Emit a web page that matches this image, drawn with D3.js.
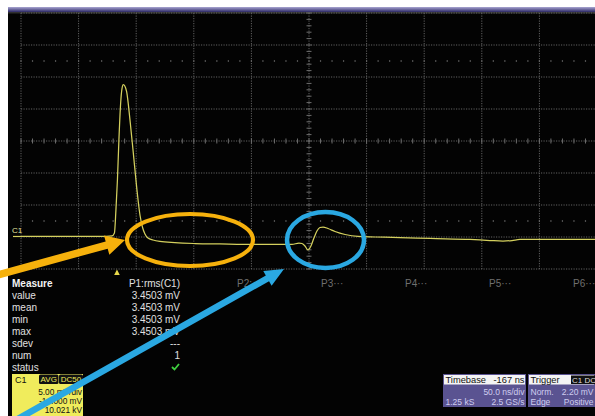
<!DOCTYPE html>
<html>
<head>
<meta charset="utf-8">
<script src="https://cdn.jsdelivr.net/npm/d3@7"></script>
<style>
  html, body { margin: 0; padding: 0; background: #fff; }
  svg { display: block; }
  text { font-family: "Liberation Sans", Arial, sans-serif; }
</style>
</head>
<body>
<svg id="scope" width="595" height="416"></svg>
<script>
// Acquired waveform of channel C1 (time in ns relative to trigger, amplitude in mV)
const traceTime = [-83.3, -49.5, -14.8, -4.3, -2.2, -0.9, 0.4, 1.7, 3.2, 4.3, 5.5, 6.8, 8.4, 11.3, 14.2, 17.1, 20.0, 22.1, 24.3, 26.9, 31.3, 37.3, 50.3, 67.7, 89.4, 124.1, 151.9, 158.0, 160.6, 163.2, 165.8, 168.4, 171.0, 173.6, 176.2, 178.9, 183.2, 189.3, 198.0, 209.3, 224.0, 245.7, 271.7, 306.4, 323.8, 335.1, 342.9, 349.8, 375.9, 416.7];
const traceMv   = [-0.92, -0.92, -0.92, -0.84, -0.38, 3.2, 7.9, 14.2, 19.9, 22.1, 22.8, 22.6, 21.7, 17.3, 12.1, 6.8, 2.4, 0.56, -0.53, -1.16, -1.47, -1.70, -1.89, -2.02, -2.09, -2.17, -2.17, -1.94, -2.02, -2.41, -3.03, -2.41, -1.16, -0.06, 0.48, 0.56, 0.33, -0.14, -0.61, -0.92, -1.00, -1.08, -1.23, -1.39, -1.55, -1.63, -1.55, -1.39, -1.39, -1.36];

// Acquisition settings
const nsPerDiv = 50;
const mvPerDiv = 5;
const timeStart = -83.3;   // left edge of the graticule
const mvBottom = -6;       // bottom edge of the graticule
const hDivs = 10, vDivs = 8;

// Measurement panel
const measureLabels = ["value", "mean", "min", "max", "sdev", "num", "status"];
const measureValues = ["3.4503 mV", "3.4503 mV", "3.4503 mV", "3.4503 mV", "---", "1", ""];
const measureTitle = "P1:rms(C1)";
const paramSlots = ["P2:", "P3···", "P4···", "P5···", "P6···"];

// Channel descriptor
const chanLines = ["5.00 mV/div", "-14.000 mV", "10.021 kV"];
const chanBadges = ["AVG", "DC50"];

// Timebase / trigger descriptors
const timebaseHead = ["Timebase", "-167 ns"];
const timebaseRows = [["", "50.0 ns/div"], ["1.25 kS", "2.5 GS/s"]];
const triggerHead = ["Trigger", "C1 DC"];
const triggerRows = [["Norm.", "2.20 mV"], ["Edge", "Positive"]];

const svg = d3.select("#scope");

const x = d3.scaleLinear().domain([timeStart, timeStart + hDivs * nsPerDiv]).range([21, 597]);
const y = d3.scaleLinear().domain([mvBottom, mvBottom + vDivs * mvPerDiv]).range([269, 13]);

// Screen frame
const defs = svg.append("defs");
const grad = defs.append("linearGradient").attr("id", "titlebar").attr("x1", 0).attr("y1", 0).attr("x2", 0).attr("y2", 1);
grad.append("stop").attr("offset", "0%").attr("stop-color", "#a9a6d2");
grad.append("stop").attr("offset", "100%").attr("stop-color", "#2b2765");

svg.append("rect").attr("x", 0).attr("y", 0).attr("width", 595).attr("height", 416).attr("fill", "#fff");
svg.append("rect").attr("x", 8).attr("y", 12).attr("width", 587).attr("height", 404).attr("fill", "#030303");
svg.append("rect").attr("x", 8).attr("y", 7).attr("width", 587).attr("height", 5).attr("fill", "url(#titlebar)");
svg.append("rect").attr("x", 8).attr("y", 12).attr("width", 587).attr("height", 1.5).attr("fill", "#303030");

// Graticule
const grid = svg.append("g").attr("stroke", "#626262").attr("stroke-width", 1).attr("stroke-dasharray", "1.2,1.3");
const vTimes = d3.range(hDivs + 1).map(i => timeStart + i * nsPerDiv);
const hMv = d3.range(vDivs + 1).map(i => mvBottom + i * mvPerDiv);
grid.selectAll("line.v").data(vTimes).join("line")
  .attr("x1", d => x(d)).attr("x2", d => x(d))
  .attr("y1", y.range()[1]).attr("y2", y.range()[0]);
grid.selectAll("line.h").data(hMv).join("line")
  .attr("x1", x.range()[0]).attr("x2", x.range()[1])
  .attr("y1", d => y(d)).attr("y2", d => y(d));

// Minor ticks on the centre axes and the quarter rows
const tCenter = timeStart + (hDivs / 2) * nsPerDiv;
const vCenter = mvBottom + (vDivs / 2) * mvPerDiv;
const minorT = d3.range(hDivs * 5 + 1).map(i => timeStart + i * nsPerDiv / 5);
const minorV = d3.range(vDivs * 5 + 1).map(i => mvBottom + i * mvPerDiv / 5);
const ticks = svg.append("g").attr("stroke", "#6e6e6e").attr("stroke-width", 1);
ticks.selectAll("line.tx").data(minorT).join("line")
  .attr("x1", d => x(d)).attr("x2", d => x(d))
  .attr("y1", y(vCenter) - 2.5).attr("y2", y(vCenter) + 2.5);
ticks.selectAll("line.ty").data(minorV).join("line")
  .attr("x1", x(tCenter) - 2.5).attr("x2", x(tCenter) + 2.5)
  .attr("y1", d => y(d)).attr("y2", d => y(d));
const quarterRows = [vCenter + 2.5 * mvPerDiv, vCenter - 2.5 * mvPerDiv];
quarterRows.forEach(r => {
  svg.append("g").attr("fill", "#707070").selectAll("rect").data(minorT).join("rect")
    .attr("x", d => x(d) - 0.6).attr("y", y(r) - 0.7).attr("width", 1.2).attr("height", 1.4);
});

// Ground marker
svg.append("text").attr("x", 12).attr("y", 233).attr("font-size", 8).attr("fill", "#e6e6a0").text("C1");
svg.append("line").attr("x1", 13).attr("x2", 21).attr("y1", y(traceMv[0])).attr("y2", y(traceMv[0]))
  .attr("stroke", "#d4d05e").attr("stroke-width", 1.2);

// Trigger position marker
const tx0 = x(0);
svg.append("path").attr("d", `M${tx0 - 2.8},275 L${tx0 + 2.8},275 L${tx0},269.5 Z`).attr("fill", "#e8d84a");

// Waveform
const line = d3.line().x((d, i) => x(traceTime[i])).y(d => y(d)).curve(d3.curveMonotoneX);
svg.append("path").datum(traceMv).attr("d", line)
  .attr("fill", "none").attr("stroke", "#d4d05e").attr("stroke-width", 1.25).attr("stroke-linejoin", "round");

// Measurement table
const mt = svg.append("g").attr("font-size", 10);
mt.append("text").attr("x", 12).attr("y", 286.5).attr("font-weight", "bold").attr("fill", "#f4f4f4").text("Measure");
mt.append("text").attr("x", 180).attr("y", 286.5).attr("text-anchor", "end").attr("fill", "#e0e0e0").text(measureTitle);
const rowY = i => 298.5 + i * 12;
mt.selectAll("text.lbl").data(measureLabels).join("text")
  .attr("x", 12).attr("y", (d, i) => rowY(i)).attr("fill", "#e0e0e0").text(d => d);
mt.selectAll("text.val").data(measureValues).join("text")
  .attr("x", 180).attr("y", (d, i) => rowY(i)).attr("text-anchor", "end").attr("fill", "#e0e0e0").text(d => d);
const ck = rowY(6) - 3.5;
svg.append("path").attr("d", `M172,${ck} L174.5,${ck + 2.5} L179,${ck - 3}`)
  .attr("fill", "none").attr("stroke", "#3fcf3f").attr("stroke-width", 1.8);

// Empty parameter slots
svg.append("g").attr("font-size", 10).attr("fill", "#6f6f6f")
  .selectAll("text").data(paramSlots).join("text")
  .attr("x", (d, i) => 237 + i * 84).attr("y", 286.5).text(d => d);

// Channel descriptor box
const cb = svg.append("g");
cb.append("rect").attr("x", 12).attr("y", 374).attr("width", 71).attr("height", 42).attr("fill", "#f0ec5c");
cb.append("text").attr("x", 15).attr("y", 382.5).attr("font-size", 9).attr("fill", "#111").text("C1");
const badgeX = [39, 59], badgeW = [19.5, 24];
chanBadges.forEach((b, i) => {
  cb.append("rect").attr("x", badgeX[i]).attr("y", 374.5).attr("width", badgeW[i]).attr("height", 9.5).attr("rx", 1.5).attr("fill", "#111");
  cb.append("text").attr("x", badgeX[i] + badgeW[i] / 2).attr("y", 382.3).attr("text-anchor", "middle")
    .attr("font-size", 8).attr("fill", "#f0ec5c").text(b);
});
cb.append("g").selectAll("text").data(chanLines).join("text")
  .attr("x", 82).attr("y", (d, i) => 395 + i * 9)
  .attr("text-anchor", "end").attr("font-size", 8.3).attr("fill", "#111").text(d => d);

// Timebase and trigger descriptor boxes
function descriptor(x0, w, head, rows, badge) {
  const g = svg.append("g").attr("font-size", 8.5);
  g.append("rect").attr("x", x0).attr("y", 374).attr("width", w).attr("height", 33).attr("fill", "#5a5391");
  g.append("rect").attr("x", x0 + 1).attr("y", 375).attr("width", w - 2).attr("height", 9.5).attr("fill", "#f4f4f4");
  g.append("text").attr("x", x0 + 2.5).attr("y", 383).attr("fill", "#111").attr("font-size", 9.3).text(head[0]);
  if (badge) {
    g.append("rect").attr("x", x0 + 43).attr("y", 375.5).attr("width", 24).attr("height", 8.5).attr("fill", "#111");
    g.append("text").attr("x", x0 + 44).attr("y", 382.7).attr("fill", "#ddd").attr("font-size", 8).text(head[1]);
  } else {
    g.append("text").attr("x", x0 + w - 1.5).attr("y", 383).attr("text-anchor", "end").attr("fill", "#111").attr("font-size", 9.3).text(head[1]);
  }
  rows.forEach((r, i) => {
    const yy = 395 + i * 9.5;
    g.append("text").attr("x", x0 + 2.5).attr("y", yy).attr("fill", "#cfcdf0").text(r[0]);
    g.append("text").attr("x", x0 + w - 1.5).attr("y", yy).attr("text-anchor", "end").attr("fill", "#cfcdf0").text(r[1]);
  });
}
descriptor(443, 83, timebaseHead, timebaseRows, false);
descriptor(528, 67, triggerHead, triggerRows, true);

// Annotation callouts
function arrow(x1, y1, x2, y2, shaftW, headL, headW, color) {
  const a = Math.atan2(y2 - y1, x2 - x1);
  const ux = Math.cos(a), uy = Math.sin(a), px = -uy, py = ux;
  const bx = x2 - ux * headL, by = y2 - uy * headL;
  const pts = [
    [x1 + px * shaftW / 2, y1 + py * shaftW / 2],
    [bx + px * shaftW / 2, by + py * shaftW / 2],
    [bx + px * headW / 2, by + py * headW / 2],
    [x2, y2],
    [bx - px * headW / 2, by - py * headW / 2],
    [bx - px * shaftW / 2, by - py * shaftW / 2],
    [x1 - px * shaftW / 2, y1 - py * shaftW / 2]
  ];
  svg.append("path").attr("d", "M" + pts.map(p => p.join(",")).join("L") + "Z").attr("fill", color);
}
svg.append("ellipse").attr("cx", 190).attr("cy", 240).attr("rx", 63).attr("ry", 26)
  .attr("fill", "none").attr("stroke", "#f6b10c").attr("stroke-width", 4.2);
svg.append("ellipse").attr("cx", 325.5).attr("cy", 240).attr("rx", 38.5).attr("ry", 28)
  .attr("fill", "none").attr("stroke", "#2aa8e2").attr("stroke-width", 4.5);
arrow(-6, 276, 125, 240, 7.5, 19, 20, "#f6b10c");
arrow(16, 420, 284, 269, 6.5, 19, 17, "#2aa8e2");
</script>
</body>
</html>
